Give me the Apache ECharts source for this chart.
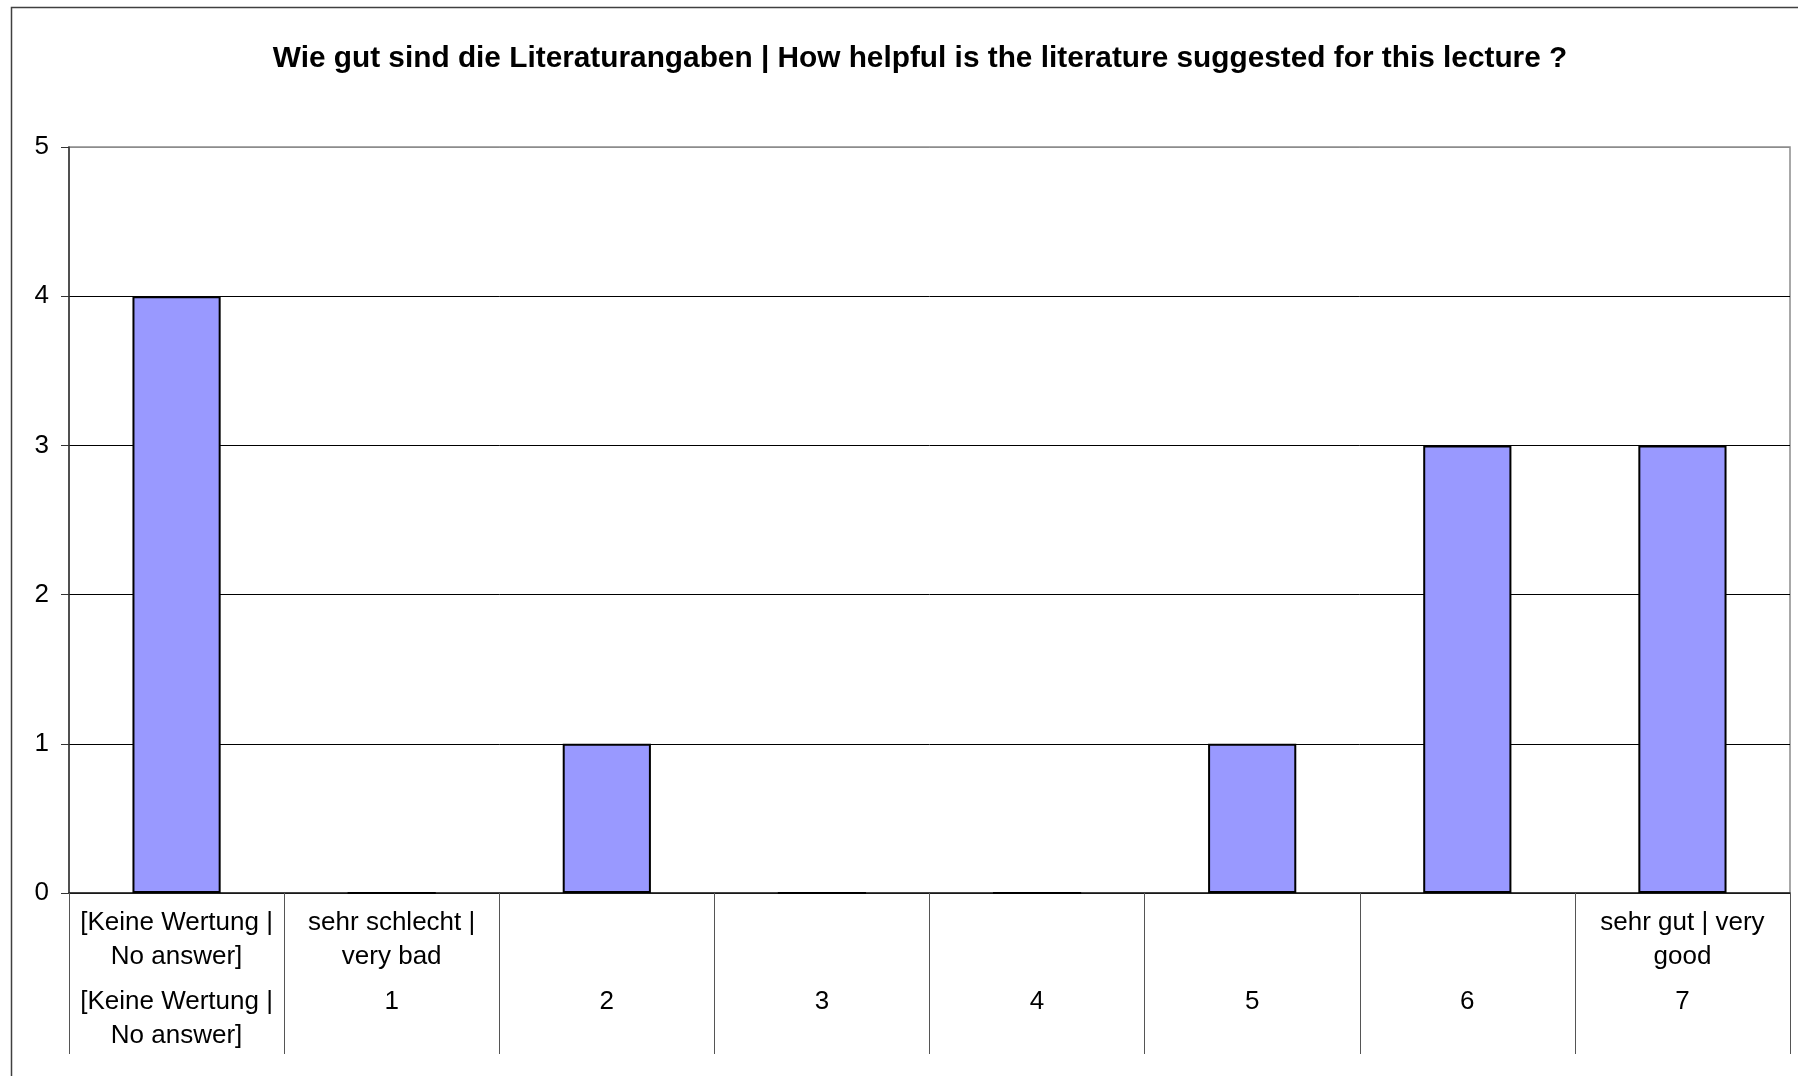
<!DOCTYPE html>
<html>
<head>
<meta charset="utf-8">
<script src="https://cdn.jsdelivr.net/npm/echarts@6/dist/echarts.min.js"></script>
<style>
  html, body { margin: 0; padding: 0; background: #fff; }
  #chart { width: 1798px; height: 1076px; }
</style>
</head>
<body>
<div id="chart"></div>
<script>
// Werte
const titleText = 'Wie gut sind die Literaturangaben | How helpful is the literature suggested for this lecture ?'
const categories = ['[Keine Wertung | No answer]', '1', '2', '3', '4', '5', '6', '7']
const scaleLabels = ['[Keine Wertung |\nNo answer]', 'sehr schlecht |\nvery bad', '', '', '', '', '', 'sehr gut | very\ngood']
const rowLabels = ['[Keine Wertung |\nNo answer]', '1', '2', '3', '4', '5', '6', '7']
const counts = [4, 0, 1, 0, 0, 1, 3, 3]
const yTicks = [0, 1, 2, 3, 4, 5]

const font = "'Liberation Sans', Arial, sans-serif"
const chart = echarts.init(document.getElementById('chart'))

chart.setOption({
  backgroundColor: '#fff',
  animation: false,
  title: {
    text: titleText,
    left: 915,
    top: 39,
    textAlign: 'center',
    textStyle: { fontFamily: font, fontSize: 29.8, fontWeight: 'bold', color: '#000' }
  },
  graphic: [
    {
      // äußerer Rahmen
      type: 'rect',
      shape: { x: 11.5, y: 7.5, width: 1900, height: 1200 },
      style: { fill: 'none', stroke: '#404040', lineWidth: 1.5 },
      silent: true
    }
  ],
  grid: {
    left: 69, top: 147, right: 8, bottom: 183,
    show: true,
    borderColor: '#8c8c8c',
    borderWidth: 1.5,
    backgroundColor: '#fff'
  },
  xAxis: [
    {
      type: 'category',
      data: categories,
      position: 'bottom',
      axisLine: { show: true, lineStyle: { color: '#222', width: 1.5 } },
      axisTick: { show: true, interval: 0, length: 161, lineStyle: { color: '#555', width: 1 } },
      axisLabel: {
        margin: 13,
        interval: 0,
        color: '#000',
        fontFamily: font,
        fontSize: 26,
        lineHeight: 34,
        formatter: (v, i) => scaleLabels[i]
      }
    },
    {
      type: 'category',
      data: categories,
      position: 'bottom',
      axisLine: { show: false },
      axisTick: { show: false },
      axisLabel: {
        margin: 92,
        interval: 0,
        color: '#000',
        fontFamily: font,
        fontSize: 26,
        lineHeight: 34,
        formatter: (v, i) => rowLabels[i]
      }
    }
  ],
  yAxis: {
    type: 'value',
    min: yTicks[0],
    max: yTicks[yTicks.length - 1],
    interval: 1,
    axisLine: { show: true, lineStyle: { color: '#333', width: 1.5 } },
    axisTick: { show: true, length: 8, lineStyle: { color: '#333' } },
    axisLabel: { margin: 20, color: '#000', fontFamily: font, fontSize: 26 },
    splitLine: {
      lineStyle: { color: ['#000', '#000', '#000', '#000', '#000', '#8c8c8c'], width: 1 }
    }
  },
  series: [
    {
      type: 'bar',
      data: counts,
      barWidth: '41%',
      itemStyle: { color: '#9999ff', borderColor: '#000', borderWidth: 2 }
    }
  ]
})
</script>
</body>
</html>
